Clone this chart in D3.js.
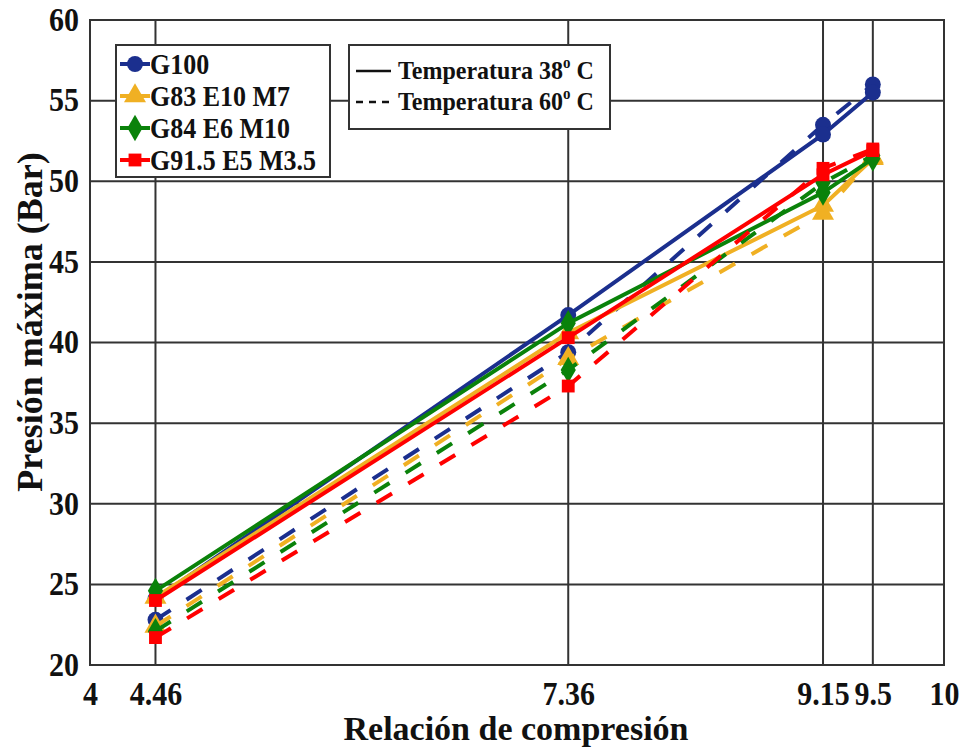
<!DOCTYPE html>
<html><head><meta charset="utf-8">
<script src="https://cdn.jsdelivr.net/npm/d3@7"></script>
<style>body{margin:0;background:#fff}svg{display:block}text{font-family:"Liberation Serif","Times New Roman",serif;font-weight:bold;fill:#111}</style>
</head><body>
<svg id="c" width="963" height="747"></svg>
<script>
const categories = [4.46, 7.36, 9.15, 9.5];
const xTicks = [4, 4.46, 7.36, 9.15, 9.5, 10];
const xTickLabels = ["4", "4.46", "7.36", "9.15", "9.5", "10"];
const yTicks = [20, 25, 30, 35, 40, 45, 50, 55, 60];
const seriesNames = ["G100", "G83 E10 M7", "G84 E6 M10", "G91.5 E5 M3.5"];
const seriesColors = ["#1b2f8e", "#f0b023", "#0a820a", "#ff0000"];
const seriesMarkers = ["circle", "triangle", "diamond", "square"];
const g100_38 = [24.1, 41.7, 52.9, 55.5];
const g100_60 = [22.8, 39.4, 53.5, 56.0];
const g83_38 = [24.2, 40.6, 48.5, 51.4];
const g83_60 = [22.4, 39.0, 48.0, 51.5];
const g84_38 = [24.6, 41.2, 49.3, 51.4];
const g84_60 = [22.1, 38.3, 49.9, 51.6];
const g915_38 = [24.0, 40.3, 50.4, 51.9];
const g915_60 = [21.7, 37.3, 50.8, 52.0];
const tempLabels = ["Temperatura 38", "Temperatura 60"];

const values38 = [g100_38, g83_38, g84_38, g915_38];
const values60 = [g100_60, g83_60, g84_60, g915_60];

const svg = d3.select("#c");
const L = 90, R = 944, T = 20, B = 665;
const SY = 1.15;
const x = d3.scaleLinear().domain([4, 10]).range([L, R]);
const y = d3.scaleLinear().domain([20, 60]).range([B, T]);

// grid
const g = svg.append("g");
g.selectAll(".gx").data(xTicks.slice(1, -1)).join("line")
  .attr("x1", d => x(d)).attr("x2", d => x(d)).attr("y1", T).attr("y2", B)
  .attr("stroke", "#333").attr("stroke-width", 2);
g.selectAll(".gy").data(yTicks.slice(1, -1)).join("line")
  .attr("y1", d => y(d)).attr("y2", d => y(d)).attr("x1", L).attr("x2", R)
  .attr("stroke", "#333").attr("stroke-width", 2);

// axes
const xAxis = d3.axisBottom(x).tickValues(xTicks).tickFormat((d, i) => xTickLabels[i]).tickSize(0);
const yAxis = d3.axisLeft(y).tickValues(yTicks).tickFormat(d3.format("d")).tickSize(0).tickPadding(11);
const gx = svg.append("g").attr("transform", `translate(0,${B})`).call(xAxis);
const gy = svg.append("g").attr("transform", `translate(${L},0)`).call(yAxis);
[gx, gy].forEach(a => {
  a.select(".domain").remove();
  a.selectAll("text").style("font-size", "30px").style("font-family", "Liberation Serif").style("font-weight", "bold").attr("fill", "#111")
    .attr("transform", `scale(1,${SY})`);
});
gx.selectAll("text").attr("y", 13.5).attr("dy", "0.71em");
gy.selectAll("text").attr("dy", "0.3em");

svg.append("rect").attr("x", L).attr("y", T).attr("width", R - L).attr("height", B - T)
  .attr("fill", "none").attr("stroke", "#333").attr("stroke-width", 2);

svg.append("text").attr("x", 516).attr("y", 740).attr("text-anchor", "middle")
  .style("font-size", "34px").text("Relación de compresión");
svg.append("text").attr("transform", `translate(42,322) rotate(-90)`).attr("text-anchor", "middle")
  .style("font-size", "36px").text("Presión máxima (Bar)");

const sym = {
  circle: d3.symbol().type(d3.symbolCircle).size(200),
  triangle: d3.symbol().type(d3.symbolTriangle).size(210),
  diamond: d3.symbol().type(d3.symbolDiamond).size(200),
  square: d3.symbol().type(d3.symbolSquare).size(165)
};

const line = d3.line().x((d, i) => x(categories[i])).y(d => y(d));

function drawSeries(vals, i, dashed) {
  svg.append("path").datum(vals).attr("d", line).attr("fill", "none")
    .attr("stroke", seriesColors[i]).attr("stroke-width", 4)
    .attr("stroke-dasharray", dashed ? "18,19" : null);
  svg.append("g").selectAll("path").data(vals).join("path")
    .attr("transform", (d, j) => `translate(${x(categories[j])},${y(d)})`)
    .attr("d", sym[seriesMarkers[i]]).attr("fill", seriesColors[i]);
}
for (let i = 0; i < 4; i++) {
  drawSeries(values60[i], i, true);
  drawSeries(values38[i], i, false);
}

// legend 1
const lg = svg.append("g");
lg.append("rect").attr("x", 116).attr("y", 45).attr("width", 214).attr("height", 132)
  .attr("fill", "#fff").attr("stroke", "#333").attr("stroke-width", 2);
seriesNames.forEach((n, i) => {
  const yy = 64 + i * 32;
  lg.append("line").attr("x1", 120).attr("x2", 150).attr("y1", yy).attr("y2", yy)
    .attr("stroke", seriesColors[i]).attr("stroke-width", 4);
  lg.append("path").attr("transform", `translate(135,${yy})`).attr("d", sym[seriesMarkers[i]]).attr("fill", seriesColors[i]);
  lg.append("text").attr("transform", `translate(150,${yy + 10}) scale(1,${SY})`).style("font-size", "26px").text(n);
});

// legend 2
const lg2 = svg.append("g");
lg2.append("rect").attr("x", 349).attr("y", 45).attr("width", 261).attr("height", 84)
  .attr("fill", "#fff").attr("stroke", "#333").attr("stroke-width", 2);
tempLabels.forEach((t, i) => {
  const yy = 71 + i * 31;
  lg2.append("line").attr("x1", 356).attr("x2", 391).attr("y1", yy).attr("y2", yy)
    .attr("stroke", "#111").attr("stroke-width", 2.5)
    .attr("stroke-dasharray", i === 1 ? "7,6" : null);
  const tx = lg2.append("text").attr("transform", `translate(398,${yy + 8}) scale(1,1.08)`).style("font-size", "24px");
  tx.append("tspan").text(t);
  tx.append("tspan").attr("dy", -10).style("font-size", "15px").text("o");
  tx.append("tspan").attr("dy", 10).text(" C");
});
</script>
</body></html>
